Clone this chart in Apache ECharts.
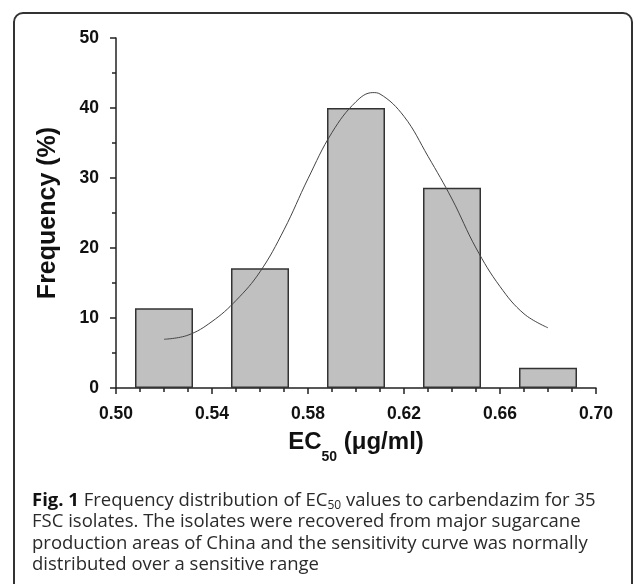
<!DOCTYPE html>
<html>
<head>
<meta charset="utf-8">
<script src="https://cdn.jsdelivr.net/npm/echarts@6/dist/echarts.min.js"></script>
<style>
  html, body { margin: 0; padding: 0; background: #fff; }
  #chart { width: 633px; height: 584px; }
</style>
</head>
<body>
<div id="chart"></div>
<script>
// histogram bins (EC50, ug/ml) and frequency (%)
const binCenters = [0.52, 0.56, 0.60, 0.64, 0.68];
const frequency = [11.4, 17.1, 40.0, 28.6, 2.9];

// fitted curve
const curveX = [0.52, 0.53, 0.54, 0.55, 0.56, 0.57, 0.58, 0.59, 0.60, 0.607, 0.61, 0.62, 0.63, 0.64, 0.65, 0.66, 0.67, 0.68];
const curveY = [6.96, 7.55, 9.5, 12.5, 16.6, 22.6, 29.9, 36.5, 40.9, 42.2, 42.0, 38.8, 33.1, 27.0, 20.0, 14.5, 10.6, 8.6];

const font = 'Liberation Sans, Arial, sans-serif';
const captionFont = 'Open Sans, Noto Sans, sans-serif';

const chart = echarts.init(document.getElementById('chart'));

const opts = {
    backgroundColor: '#fff',
    animation: false,
    grid: { left: 116, right: 37, top: 38, bottom: 196 },
    xAxis: {
        type: 'value',
        min: 0.5,
        max: 0.7,
        interval: 0.04,
        name: '{a|EC}{s|50}{a| (μg/ml)}',
        nameLocation: 'middle',
        nameMoveOverlap: false,
        nameGap: 42,
        nameTextStyle: {
            rich: {
                a: { fontFamily: font, fontWeight: 'bold', fontSize: 24, color: '#111', lineHeight: 24, verticalAlign: 'top' },
                s: { fontFamily: font, fontWeight: 'bold', fontSize: 14, color: '#111', lineHeight: 34, verticalAlign: 'bottom' }
            }
        },
        axisLine: { lineStyle: { color: '#222', width: 1.5 } },
        axisTick: { length: 6, lineStyle: { color: '#222', width: 1.5 } },
        minorTick: { show: true, splitNumber: 4, length: 4, lineStyle: { color: '#222', width: 1.5 } },
        splitLine: { show: false },
        axisLabel: {
            margin: 17,
            fontFamily: font,
            fontWeight: 'bold',
            fontSize: 17.5,
            color: '#111',
            formatter: v => v.toFixed(2)
        }
    },
    yAxis: {
        type: 'value',
        min: 0,
        max: 50,
        interval: 10,
        name: 'Frequency (%)',
        nameLocation: 'middle',
        nameMoveOverlap: false,
        nameGap: 55,
        nameTextStyle: { fontFamily: font, fontWeight: 'bold', fontSize: 25, color: '#111' },
        axisLine: { show: true, lineStyle: { color: '#222', width: 1.5 } },
        axisTick: { show: true, length: 6, lineStyle: { color: '#222', width: 1.5 } },
        minorTick: { show: true, splitNumber: 2, length: 4, lineStyle: { color: '#222', width: 1.5 } },
        splitLine: { show: false },
        axisLabel: {
            margin: 17,
            fontFamily: font,
            fontWeight: 'bold',
            fontSize: 17.5,
            color: '#111'
        }
    },
    series: [
        {
            type: 'bar',
            barWidth: 58,
            itemStyle: { color: '#c0c0c0', borderColor: '#333', borderWidth: 1.5 },
            data: binCenters.map((x, i) => [x, frequency[i]]),
            z: 2
        },
        {
            type: 'line',
            smooth: 0.4,
            showSymbol: false,
            symbol: 'none',
            lineStyle: { color: '#444', width: 1 },
            data: curveX.map((x, i) => [x, curveY[i]]),
            z: 3
        }
    ],
    graphic: [
        {
            type: 'rect',
            shape: { x: 14, y: 13, width: 618, height: 620, r: 9 },
            style: { fill: 'none', stroke: '#333', lineWidth: 2 },
            silent: true
        },
        {
            type: 'text',
            x: 32,
            y: 490,
            style: {
                text: '{b|Fig. 1} Frequency distribution of EC{s|50} values to carbendazim for 35\n' +
                      'FSC isolates. The isolates were recovered from major sugarcane\n' +
                      'production areas of China and the sensitivity curve was normally\n' +
                      'distributed over a sensitive range',
                font: '18.5px ' + captionFont,
                fill: '#2a2a2a',
                lineHeight: 21.3,
                rich: {
                    b: { fontFamily: captionFont, fontWeight: 'bold', fontSize: 18.5, fill: '#111', lineHeight: 21.3 },
                    s: { fontFamily: captionFont, fontSize: 12, fill: '#2a2a2a', lineHeight: 12, verticalAlign: 'bottom' }
                }
            }
        }
    ]
};

chart.setOption(opts);
</script>
</body>
</html>
